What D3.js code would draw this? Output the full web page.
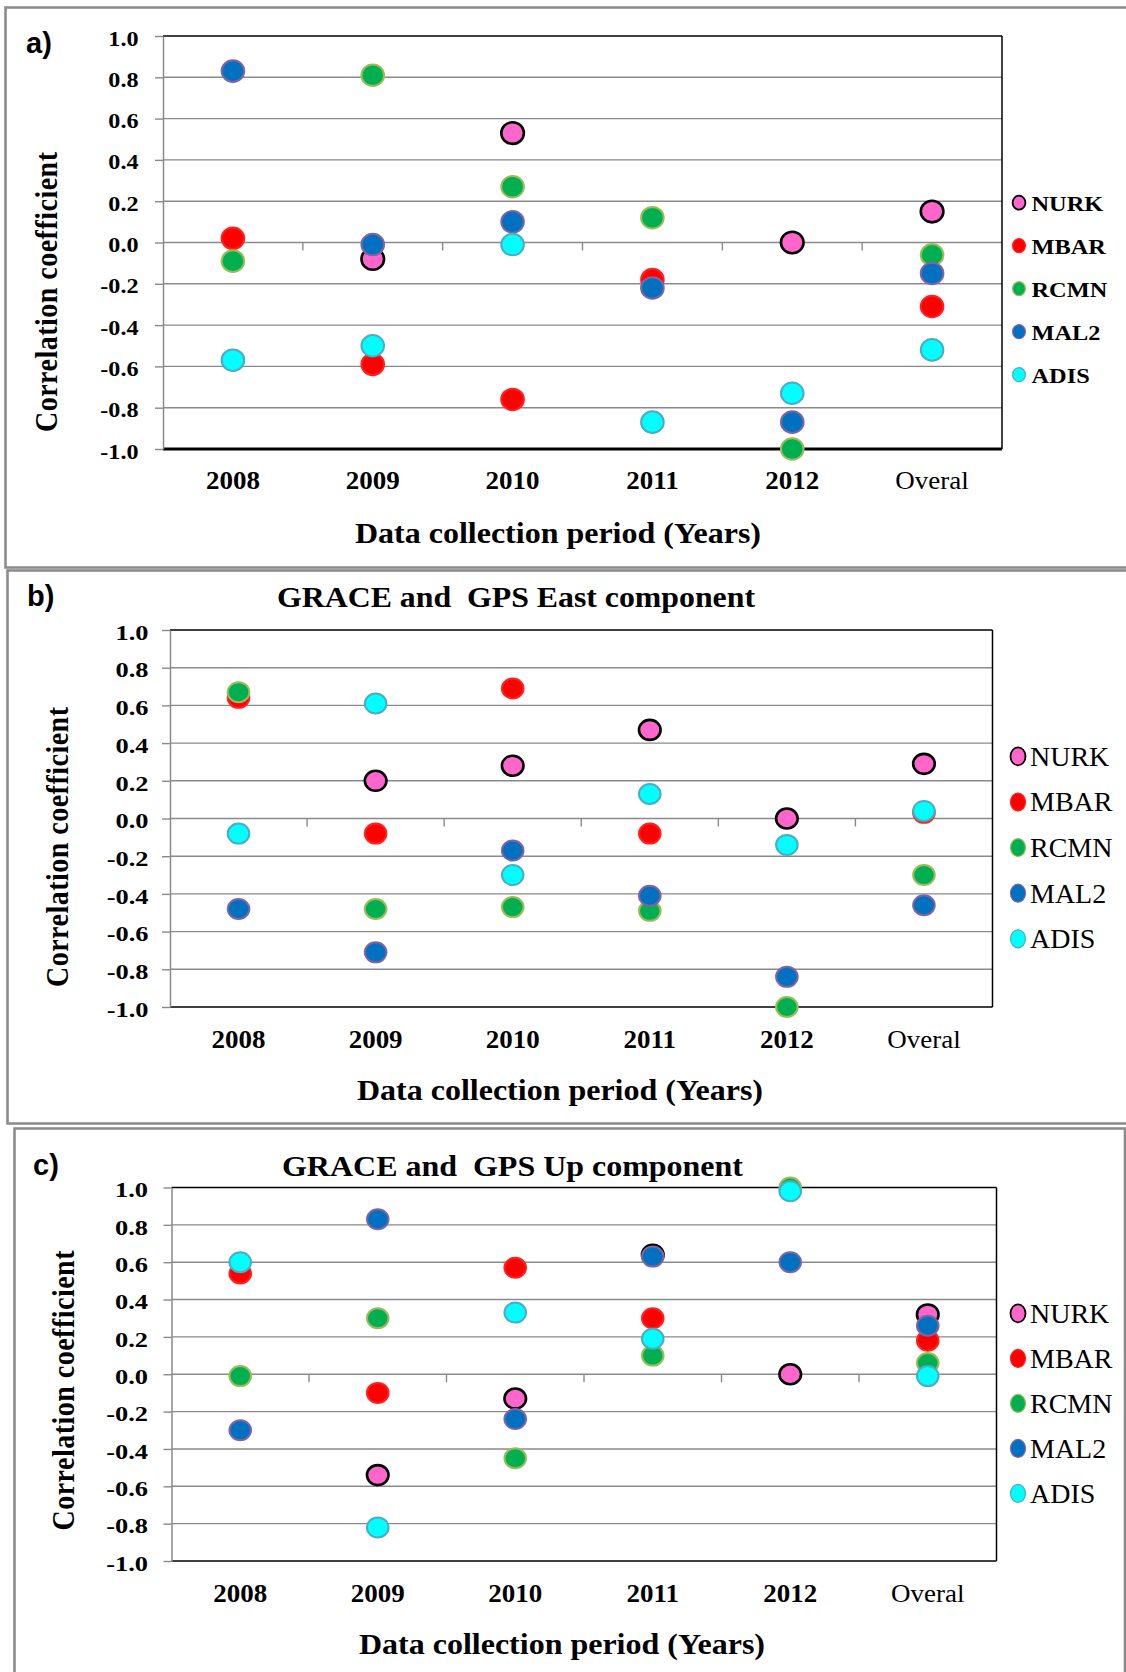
<!DOCTYPE html>
<html>
<head>
<meta charset="utf-8">
<script src="https://cdn.jsdelivr.net/npm/d3@7"></script>
<style>
  html, body { margin: 0; padding: 0; background: #fff; }
  svg { display: block; }
  text { font-family: "Liberation Serif", "Times New Roman", serif; fill: #000; }
</style>
</head>
<body>
<script>
// ---- data -------------------------------------------------------------
const categories = ["2008", "2009", "2010", "2011", "2012", "Overal"];
const stations = ["NURK", "MBAR", "RCMN", "MAL2", "ADIS"];
const yTickValues = [1.0, 0.8, 0.6, 0.4, 0.2, 0.0, -0.2, -0.4, -0.6, -0.8, -1.0];
const yTickLabels = ["1.0", "0.8", "0.6", "0.4", "0.2", "0.0", "-0.2", "-0.4", "-0.6", "-0.8", "-1.0"];
const panelLabels = ["a)", "b)", "c)"];
const panelTitles = [null, "GRACE and  GPS East component", "GRACE and  GPS Up component"];
const xAxisTitle = "Data collection period (Years)";
const yAxisTitle = "Correlation coefficient";

// a) correlation coefficients per station (null = no data for that period)
const aNURK = [null, -0.08, 0.53, null, 0.00, 0.15];
const aMBAR = [0.02, -0.59, -0.76, -0.18, null, -0.31];
const aRCMN = [-0.09, 0.81, 0.27, 0.12, -1.00, -0.06];
const aMAL2 = [0.83, -0.01, 0.10, -0.22, -0.87, -0.15];
const aADIS = [-0.57, -0.50, -0.01, -0.87, -0.73, -0.52];

// b) GRACE and GPS East component
const bNURK = [null, 0.20, 0.28, 0.47, 0.00, 0.29];
const bMBAR = [0.64, -0.08, 0.69, -0.08, null, 0.03];
const bRCMN = [0.67, -0.48, -0.47, -0.49, -1.00, -0.30];
const bMAL2 = [-0.48, -0.71, -0.17, -0.41, -0.84, -0.46];
const bADIS = [-0.08, 0.61, -0.30, 0.13, -0.14, 0.04];

// c) GRACE and GPS Up component
const cNURK = [null, -0.54, -0.13, 0.64, 0.00, 0.32];
const cMBAR = [0.54, -0.10, 0.57, 0.30, null, 0.18];
const cRCMN = [-0.01, 0.30, -0.45, 0.10, 1.00, 0.06];
const cMAL2 = [-0.30, 0.83, -0.24, 0.63, 0.60, 0.26];
const cADIS = [0.60, -0.82, 0.33, 0.19, 0.98, -0.01];

const panelSeries = [
  [aNURK, aMBAR, aRCMN, aMAL2, aADIS],
  [bNURK, bMBAR, bRCMN, bMAL2, bADIS],
  [cNURK, cMBAR, cRCMN, cMAL2, cADIS]
];

// ---- styles -------------------------------------------------------------
const markerFill   = { NURK: "#FF66CC", MBAR: "#FF0000", RCMN: "#00B050", MAL2: "#0070C0", ADIS: "#00FFFF" };
const markerStroke = { NURK: "#000000", MBAR: "#FF2020", RCMN: "#9BBB59", MAL2: "#8064A2", ADIS: "#4BACC6" };
const markerStrokeW = { NURK: 2.6, MBAR: 2, RCMN: 2, MAL2: 2, ADIS: 2 };
const gridColor = "#8a8a8a";
const boxColor = "#8c8c8c";

const layouts = [
  { box: [5.5, 7.5, 1122, 560], plot: { l: 163, r: 1002, t: 36, b: 449 }, bottomW: 3,
    label: { x: 26, y: 53 }, title: null,
    yTick: { x: 138.5, size: 21, sx: 1.15, dy: "0.43em" }, xLabY: 488.5,
    xTitle: { x: 558, y: 542.5 }, yTitle: { x: 57, y: 292 },
    legend: { x: 1019, y0: 202.7, dy: 43, rx: 6.4, ry: 7, tx: 1031.5, size: 21, weight: "bold", sx: 1.16, base: 8 },
    marker: { rx: 11.3, ry: 10.8 } },
  { box: [7.5, 570.5, 1120, 553], plot: { l: 170, r: 992.5, t: 630, b: 1007 }, bottomW: 1.5,
    label: { x: 27, y: 606 }, title: { x: 516, y: 606.5, len: 478 },
    yTick: { x: 148.5, size: 22, sx: 1.2, dy: "0.42em" }, xLabY: 1047.5,
    xTitle: { x: 560, y: 1100 }, yTitle: { x: 68, y: 847 },
    legend: { x: 1018, y0: 756.4, dy: 45.6, rx: 7.5, ry: 9, tx: 1030, size: 28, weight: "normal", sx: 1.0, base: 9.3 },
    marker: { rx: 10.8, ry: 10 } },
  { box: [14.5, 1128.5, 1110.5, 560], plot: { l: 171.5, r: 996.5, t: 1187.5, b: 1561 }, bottomW: 1.5,
    label: { x: 33, y: 1175 }, title: { x: 512.5, y: 1176, len: 461 },
    yTick: { x: 148, size: 22, sx: 1.2, dy: "0.42em" }, xLabY: 1601.5,
    xTitle: { x: 562, y: 1654 }, yTitle: { x: 74, y: 1390.5 },
    legend: { x: 1018, y0: 1313.4, dy: 45, rx: 7.5, ry: 9, tx: 1030, size: 28, weight: "normal", sx: 1.0, base: 9.3 },
    marker: { rx: 10.8, ry: 10 } }
];

// ---- drawing --------------------------------------------------------------
const W = 1126, H = 1672;
const svg = d3.select("body").append("svg").attr("width", W).attr("height", H);
svg.append("rect").attr("width", W).attr("height", H).attr("fill", "#fff");

layouts.forEach((L, pi) => {
  const g = svg.append("g");
  const P = L.plot;

  // panel frame
  g.append("rect")
    .attr("x", L.box[0]).attr("y", L.box[1])
    .attr("width", L.box[2]).attr("height", L.box[3])
    .attr("fill", "none").attr("stroke", boxColor).attr("stroke-width", 2.6);

  const x = d3.scaleBand().domain(categories).range([P.l, P.r]).padding(0);
  const y = d3.scaleLinear().domain([-1, 1]).range([P.b, P.t]);

  // horizontal gridlines
  g.append("g").selectAll("line")
    .data(yTickValues.filter(v => v < 1 && v > -1))
    .join("line")
    .attr("x1", P.l).attr("x2", P.r)
    .attr("y1", d => y(d)).attr("y2", d => y(d))
    .attr("stroke", gridColor).attr("stroke-width", 1.4);

  // category tick marks on the zero line
  g.append("g").selectAll("line")
    .data(d3.range(1, categories.length))
    .join("line")
    .attr("x1", i => x.range()[0] + i * x.step())
    .attr("x2", i => x.range()[0] + i * x.step())
    .attr("y1", y(0)).attr("y2", y(0) + 8)
    .attr("stroke", gridColor).attr("stroke-width", 1.4);

  // plot area outline (top, right, bottom in black)
  g.append("line").attr("x1", P.l).attr("x2", P.r).attr("y1", P.t).attr("y2", P.t)
    .attr("stroke", "#000").attr("stroke-width", 1.5);
  g.append("line").attr("x1", P.r).attr("x2", P.r).attr("y1", P.t).attr("y2", P.b)
    .attr("stroke", "#000").attr("stroke-width", 1.5);
  g.append("line").attr("x1", P.l).attr("x2", P.r).attr("y1", P.b).attr("y2", P.b)
    .attr("stroke", "#000").attr("stroke-width", L.bottomW);

  // y axis
  const yAxis = d3.axisLeft(y)
    .tickValues(yTickValues)
    .tickFormat((d, i) => yTickLabels[i])
    .tickSize(8).tickSizeOuter(0)
    .tickPadding(P.l - L.yTick.x - 8);
  const ya = g.append("g").attr("transform", `translate(${P.l},0)`).call(yAxis);
  ya.select(".domain").attr("stroke", gridColor).attr("stroke-width", 1.5);
  ya.selectAll(".tick line").attr("stroke", gridColor).attr("stroke-width", 1.4);
  ya.selectAll(".tick text")
    .attr("font-family", "Liberation Serif, Times New Roman, serif")
    .attr("font-weight", "bold").attr("font-size", L.yTick.size)
    .attr("dy", L.yTick.dy)
    .attr("transform", function () {
      const tx = +this.getAttribute("x");
      return `translate(${tx},0) scale(${L.yTick.sx},1)`;
    })
    .attr("x", 0);

  // x axis labels under the plot
  const xAxis = d3.axisBottom(x).tickSize(0).tickPadding(0);
  const xa = g.append("g").attr("transform", `translate(0,${P.b})`).call(xAxis);
  xa.select(".domain").remove();
  xa.selectAll(".tick text")
    .attr("font-family", "Liberation Serif, Times New Roman, serif")
    .attr("font-size", 25)
    .attr("font-weight", d => d === "Overal" ? "normal" : "bold")
    .attr("dy", 0)
    .attr("y", 0)
    .attr("transform", `translate(0,${L.xLabY - P.b}) scale(1.08,1)`);

  // markers: series drawn in station order so later stations sit on top
  stations.forEach((st, si) => {
    const vals = panelSeries[pi][si];
    g.append("g").selectAll("ellipse")
      .data(categories.map((c, i) => ({ c, v: vals[i] })).filter(d => d.v !== null))
      .join("ellipse")
      .attr("cx", d => x(d.c) + x.bandwidth() / 2)
      .attr("cy", d => y(d.v))
      .attr("rx", L.marker.rx).attr("ry", L.marker.ry)
      .attr("fill", markerFill[st])
      .attr("stroke", markerStroke[st])
      .attr("stroke-width", markerStrokeW[st]);
  });

  // legend
  const lg = g.append("g");
  stations.forEach((st, si) => {
    const cy = L.legend.y0 + si * L.legend.dy;
    lg.append("ellipse")
      .attr("cx", L.legend.x).attr("cy", cy)
      .attr("rx", L.legend.rx).attr("ry", L.legend.ry)
      .attr("fill", markerFill[st]).attr("stroke", markerStroke[st])
      .attr("stroke-width", st === "NURK" ? 1.8 : 1.2);
    lg.append("text")
      .attr("transform", `translate(${L.legend.tx},${cy + L.legend.base}) scale(${L.legend.sx},1)`)
      .attr("font-size", L.legend.size)
      .attr("font-weight", L.legend.weight)
      .text(st);
  });

  // panel letter
  g.append("text")
    .attr("x", L.label.x).attr("y", L.label.y)
    .style("font-family", "'Liberation Sans', Arial, sans-serif")
    .attr("font-size", 29).attr("font-weight", "bold")
    .text(panelLabels[pi]);

  // panel title
  if (panelTitles[pi]) {
    g.append("text")
      .attr("x", L.title.x).attr("y", L.title.y)
      .attr("text-anchor", "middle")
      .attr("font-size", 30).attr("font-weight", "bold")
      .style("white-space", "pre")
      .attr("textLength", L.title.len).attr("lengthAdjust", "spacingAndGlyphs")
      .text(panelTitles[pi]);
  }

  // x axis title
  g.append("text")
    .attr("x", L.xTitle.x).attr("y", L.xTitle.y)
    .attr("text-anchor", "middle")
    .attr("font-size", 29).attr("font-weight", "bold")
    .attr("textLength", 406).attr("lengthAdjust", "spacingAndGlyphs")
    .text(xAxisTitle);

  // y axis title
  g.append("text")
    .attr("transform", `translate(${L.yTitle.x},${L.yTitle.y}) scale(1.1,1) rotate(-90)`)
    .attr("text-anchor", "middle")
    .attr("font-size", 28).attr("font-weight", "bold")
    .attr("textLength", 280).attr("lengthAdjust", "spacing")
    .text(yAxisTitle);
});
</script>
</body>
</html>
